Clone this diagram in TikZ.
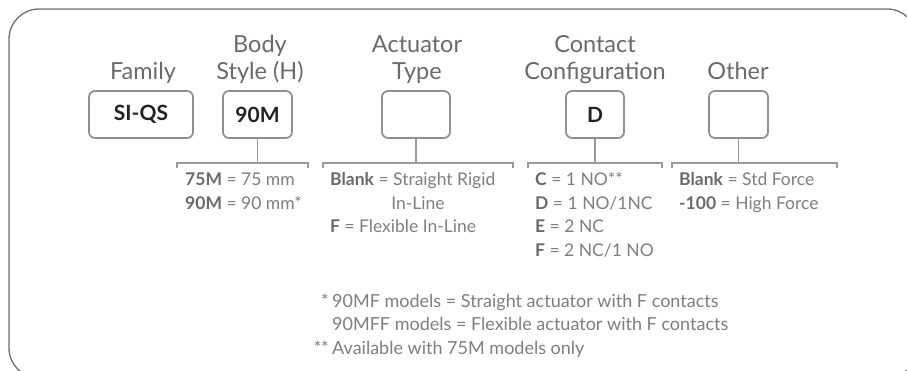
\documentclass[tikz,border=0pt]{standalone}
\usepackage{fontspec}
\setmainfont{Lato}
\definecolor{frame}{HTML}{6E6E6E}
\definecolor{boxline}{HTML}{8F8F8F}
\definecolor{brk}{HTML}{9A9A9A}
\definecolor{head}{HTML}{6A6A6A}
\definecolor{light}{HTML}{7E7E7E}
\definecolor{dark}{HTML}{6A6A6A}
\definecolor{ink}{HTML}{222222}
\begin{document}
\begin{tikzpicture}[x=1pt,y=-1pt,
  codebox/.style={draw=boxline,line width=1.7pt,rounded corners=6pt,minimum height=47pt,inner sep=0pt,
    font=\fontsize{21}{24}\selectfont\bfseries,text=ink},
  headlbl/.style={anchor=base,align=center,inner sep=0pt,text=head,font=\fontsize{23.5}{27}\selectfont},
  brline/.style={draw=brk,line width=1.4pt},
  opt/.style={anchor=base west,inner sep=0pt,text=light,font=\fontsize{17.5}{19}\selectfont},
  note/.style={anchor=base west,inner sep=0pt,text=light,font=\fontsize{18}{19}\selectfont}]
\useasboundingbox (0,0) rectangle (907,371);
\draw[frame,line width=1.3pt,rounded corners=30pt] (9,9) rectangle (917,378);

% headers
\node[headlbl] (hfam) at (143,80) {Family};
\node[headlbl] (hbody) at (260,80) {Body\\Style (H)};
\node[headlbl] (hact) at (417,80) {Actuator\\Type};
\node[headlbl] (hcon) at (595,80) {Contact\\Configuration};
\node[headlbl] (hoth) at (738,80) {Other};

% boxes
\node[codebox,minimum width=104pt] (bfam) at (141,114.5) {SI-QS};
\node[codebox,minimum width=69pt] (bbody) at (257.5,114.5) {90M};
\node[codebox,minimum width=68pt] (bact) at (416,114.5) {};
\node[codebox,minimum width=58pt] (bcon) at (595,114.5) {D};
\node[codebox,minimum width=59pt] (both) at (738.5,114.5) {};

% brackets
\coordinate (bodyL) at (177,168); \coordinate (bodyR) at (308,168);
\coordinate (actL) at (323,168); \coordinate (actR) at (513,168);
\coordinate (conL) at (528,168); \coordinate (conR) at (662,168);
\coordinate (othL) at (672,168); \coordinate (othR) at (837,168);
\foreach \b/\l/\r in {bbody/bodyL/bodyR,bact/actL/actR,bcon/conL/conR,both/othL/othR}{
  \draw[brline] (\b.south) -- (\b.south |- 0,163);
  \draw[brline] (\l) -- ++(0,-5) -| (\r);
}

% options
\node[opt] (o1) at (185,186) {\textcolor{dark}{\bfseries 75M} = 75 mm};
\node[opt] (o2) at (185,209.5) {\textcolor{dark}{\bfseries 90M} = 90 mm*};

\node[opt] (a1) at (330,186) {\textcolor{dark}{\bfseries Blank} = Straight Rigid};
\node[opt,anchor=base] (a2) at (418,209.5) {In-Line};
\node[opt] (a3) at (330,233) {\textcolor{dark}{\bfseries F} = Flexible In-Line};

\node[opt] (c1) at (535,186) {\textcolor{dark}{\bfseries C} = 1 NO**};
\node[opt] (c2) at (535,209.5) {\textcolor{dark}{\bfseries D} = 1 NO/1NC};
\node[opt] (c3) at (535,233) {\textcolor{dark}{\bfseries E} = 2 NC};
\node[opt] (c4) at (535,256.5) {\textcolor{dark}{\bfseries F} = 2 NC/1 NO};

\node[opt] (t1) at (679,186) {\textcolor{dark}{\bfseries Blank} = Std Force};
\node[opt] (t2) at (679,209.5) {\textcolor{dark}{\bfseries -100} = High Force};

% footnotes
\node[note,anchor=base east] (s1) at (329,307) {*};
\node[note] (n1) at (332,307) {90MF models = Straight actuator with F contacts};
\node[note] (n2) at (332,330.5) {90MFF models = Flexible actuator with F contacts};
\node[note,anchor=base east] (s2) at (329,354) {**};
\node[note] (n3) at (332,354) {Available with 75M models only};
\end{tikzpicture}
\end{document}
